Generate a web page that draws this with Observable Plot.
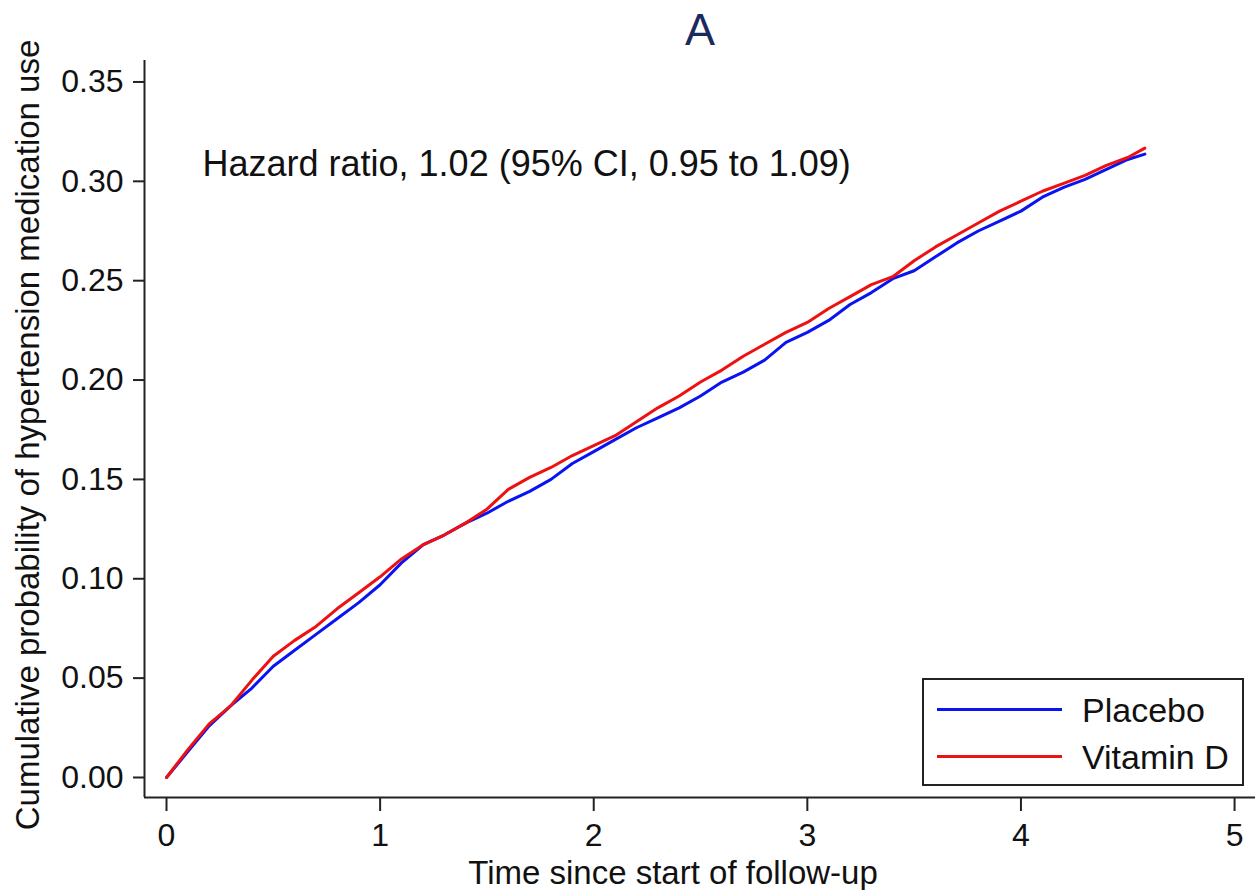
<!DOCTYPE html>
<html>
<head>
<meta charset="utf-8">
<script src="https://cdn.jsdelivr.net/npm/d3@7"></script>
<script src="https://cdn.jsdelivr.net/npm/@observablehq/plot@0.6"></script>
<style>
  html, body { margin: 0; padding: 0; background: #fff; }
  #wrap { position: relative; width: 1255px; height: 890px; font-family: "Liberation Sans", Arial, sans-serif; }
  #legend { position: absolute; left: 922px; top: 678px; width: 318px; height: 104px; border: 2px solid #222; background: #fff; }
  .sw { position: absolute; left: 13px; width: 125px; height: 3px; }
  .lab { position: absolute; left: 158px; font-size: 34px; line-height: 34px; color: #111; white-space: nowrap; }
</style>
</head>
<body>
<div id="wrap"></div>
<script>
// ---- data ----
const time = [0, 0.1, 0.2, 0.3, 0.4, 0.5, 0.6, 0.7, 0.8, 0.9, 1.0, 1.1, 1.2, 1.3, 1.4, 1.5, 1.6, 1.7, 1.8, 1.9,
  2.0, 2.1, 2.2, 2.3, 2.4, 2.5, 2.6, 2.7, 2.8, 2.9, 3.0, 3.1, 3.2, 3.3, 3.4, 3.5, 3.6, 3.7, 3.8, 3.9,
  4.0, 4.1, 4.2, 4.3, 4.4, 4.5, 4.58];
const placebo = [0, 0.013, 0.026, 0.036, 0.045, 0.056, 0.064, 0.072, 0.080, 0.088, 0.097, 0.108, 0.117, 0.122, 0.128, 0.133, 0.139, 0.144, 0.150, 0.158,
  0.164, 0.170, 0.176, 0.181, 0.186, 0.192, 0.199, 0.204, 0.210, 0.219, 0.224, 0.230, 0.238, 0.244, 0.251, 0.255, 0.262, 0.269, 0.275, 0.280,
  0.285, 0.292, 0.297, 0.301, 0.306, 0.311, 0.3137];
const vitaminD = [0, 0.014, 0.027, 0.036, 0.049, 0.061, 0.069, 0.076, 0.085, 0.093, 0.101, 0.110, 0.117, 0.122, 0.128, 0.135, 0.145, 0.151, 0.156, 0.162,
  0.167, 0.172, 0.179, 0.186, 0.192, 0.199, 0.205, 0.212, 0.218, 0.224, 0.229, 0.236, 0.242, 0.248, 0.252, 0.260, 0.267, 0.273, 0.279, 0.285,
  0.290, 0.295, 0.299, 0.303, 0.308, 0.312, 0.3167];
const seriesNames = ["Placebo", "Vitamin D"];
const seriesColors = ["#0a14f0", "#ee1111"];
const xTicks = [0, 1, 2, 3, 4, 5];
const yTicks = [0, 0.05, 0.10, 0.15, 0.20, 0.25, 0.30, 0.35];
const titleText = "A";
const xLabel = "Time since start of follow-up";
const yLabel = "Cumulative probability of hypertension medication use";
const note = "Hazard ratio, 1.02 (95% CI, 0.95 to 1.09)";

// ---- build table ----
const rows = [];
time.forEach((t, i) => {
  rows.push({time: t, p: placebo[i], group: seriesNames[0]});
  rows.push({time: t, p: vitaminD[i], group: seriesNames[1]});
});

const xDomain = [-0.103, 5.098];
const yDomain = [-0.01007, 0.3608];
const axisColor = "#222";

const chart = Plot.plot({
  width: 1255,
  height: 890,
  marginLeft: 144,
  marginRight: 0,
  marginTop: 60,
  marginBottom: 93,
  style: {fontFamily: "Liberation Sans, Arial, sans-serif", fontSize: "32px", color: "#111", background: "#fff"},
  x: {domain: xDomain},
  y: {domain: yDomain},
  color: {domain: seriesNames, range: seriesColors},
  marks: [
    Plot.axisY({ticks: yTicks, tickFormat: d3.format(".2f"), tickSize: 11, tickPadding: 10, strokeWidth: 2, stroke: axisColor, fill: "#111", label: null, fontSize: 32}),
    Plot.axisX({ticks: xTicks, tickFormat: d3.format("d"), tickSize: 14, tickPadding: 12, strokeWidth: 2, stroke: axisColor, fill: "#111", label: null, fontSize: 32}),
    Plot.ruleX([xDomain[0]], {stroke: axisColor, strokeWidth: 2}),
    Plot.ruleY([yDomain[0]], {stroke: axisColor, strokeWidth: 2}),
    Plot.line(rows, {x: "time", y: "p", z: "group", stroke: "group", strokeWidth: 3}),
    Plot.text([note], {frameAnchor: "top-left", textAnchor: "start", dx: 58, dy: 90, fontSize: 36, fill: "#111"}),
    Plot.text([xLabel], {frameAnchor: "bottom", textAnchor: "middle", dx: -27, dy: 86, fontSize: 33, fill: "#111"}),
    Plot.text([yLabel], {frameAnchor: "left", textAnchor: "middle", lineAnchor: "middle", rotate: -90, dx: -116, dy: 6, fontSize: 33, fill: "#111"}),
    Plot.text([titleText], {frameAnchor: "top", dy: -47, fontSize: 45, fill: "#1b2a5c"})
  ]
});

const wrap = document.getElementById("wrap");
wrap.appendChild(chart);

// legend
const legend = document.createElement("div");
legend.id = "legend";
const rowTops = [30, 77];
seriesNames.forEach((name, i) => {
  const sw = document.createElement("div");
  sw.className = "sw";
  sw.style.top = (rowTops[i] - 2) + "px";
  sw.style.background = seriesColors[i];
  legend.appendChild(sw);
  const lab = document.createElement("div");
  lab.className = "lab";
  lab.style.top = (rowTops[i] - 17) + "px";
  lab.textContent = name;
  legend.appendChild(lab);
});
wrap.appendChild(legend);
</script>
</body>
</html>
